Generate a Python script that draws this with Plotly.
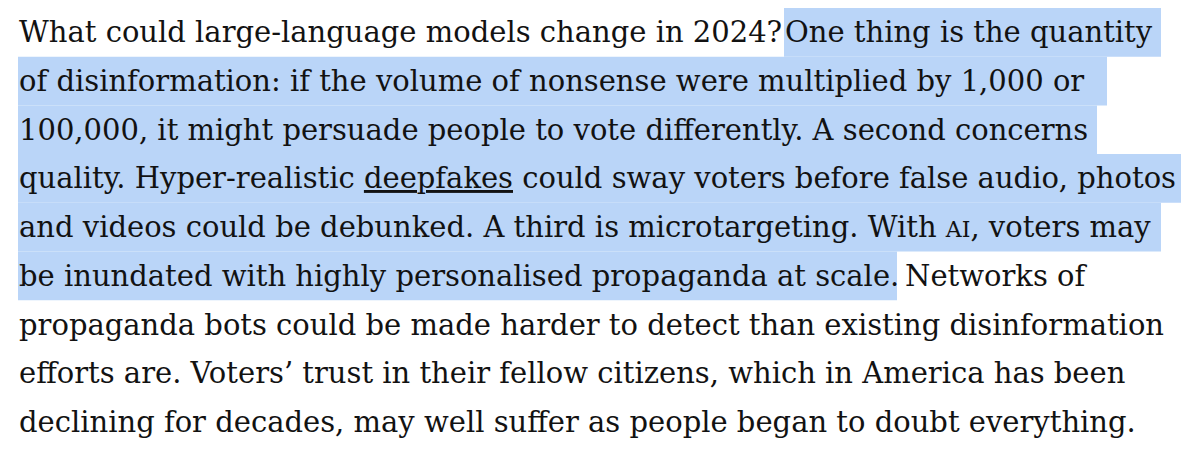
import plotly.graph_objects as go

# Text of each line, split into: plain part before highlight, highlighted part, plain part after
line_pre = [
    "What could large-language models change in 2024?",
    "", "", "", "", "",
    "propaganda bots could be made harder to detect than existing disinformation",
    "efforts are. Voters’ trust in their fellow citizens, which in America has been",
    "declining for decades, may well suffer as people began to doubt everything.",
]
line_hi = [
    "One thing is the quantity",
    "of disinformation: if the volume of nonsense were multiplied by 1,000 or",
    "100,000, it might persuade people to vote differently. A second concerns",
    "quality. Hyper-realistic <span style='text-decoration:underline'>deepfakes</span> could sway voters before false audio, photos",
    "and videos could be debunked. A third is microtargeting. With <span style='font-size:22px'>AI</span>, voters may",
    "be inundated with highly personalised propaganda at scale.",
    "", "", "",
]
line_post = ["", "", "", "", "", "Networks of", "", "", ""]

# Highlight extents (pixels)
hi_x0 = [784, 18, 18, 18, 18, 18]
hi_x1 = [1161, 1107, 1097, 1181, 1161, 897]
post_x0 = [None, None, None, None, None, 904]

text_left = 18
band_top = 8
line_step = 48.7
font_family = "DejaVu Serif"
font_size = 29
ink = "#121212"
mark = "#bad5f8"

# the page body has an 8px margin; use page pixel coordinates on the axes
page_off = 8

fig = go.Figure()
shapes = []
annotations = []
for i in range(len(line_pre)):
    top = band_top + i * line_step
    mid = top + line_step / 2
    if i < len(hi_x0):
        shapes.append(dict(type="rect", xref="x", yref="y", x0=hi_x0[i], x1=hi_x1[i],
                           y0=top, y1=top + line_step, fillcolor=mark, line=dict(width=0),
                           layer="below"))
    if line_pre[i]:
        annotations.append(dict(x=text_left, y=mid, text=line_pre[i], xanchor="left", yanchor="middle"))
    if line_hi[i]:
        annotations.append(dict(x=hi_x0[i], y=mid, text=line_hi[i], xanchor="left", yanchor="middle"))
    if line_post[i]:
        annotations.append(dict(x=post_x0[i], y=mid, text=line_post[i], xanchor="left", yanchor="middle"))

for a in annotations:
    a.update(xref="x", yref="y", showarrow=False, borderpad=0,
             font=dict(family=font_family, size=font_size, color=ink))

fig.update_layout(
    width=1200 - page_off, height=461 - page_off,
    margin=dict(l=0, r=0, t=0, b=0),
    paper_bgcolor="white", plot_bgcolor="white",
    xaxis=dict(range=[page_off, 1200], visible=False, fixedrange=True),
    yaxis=dict(range=[461, page_off], visible=False, fixedrange=True),
    shapes=shapes, annotations=annotations, showlegend=False,
)
fig.write_html("out.html", config={"displayModeBar": False})
